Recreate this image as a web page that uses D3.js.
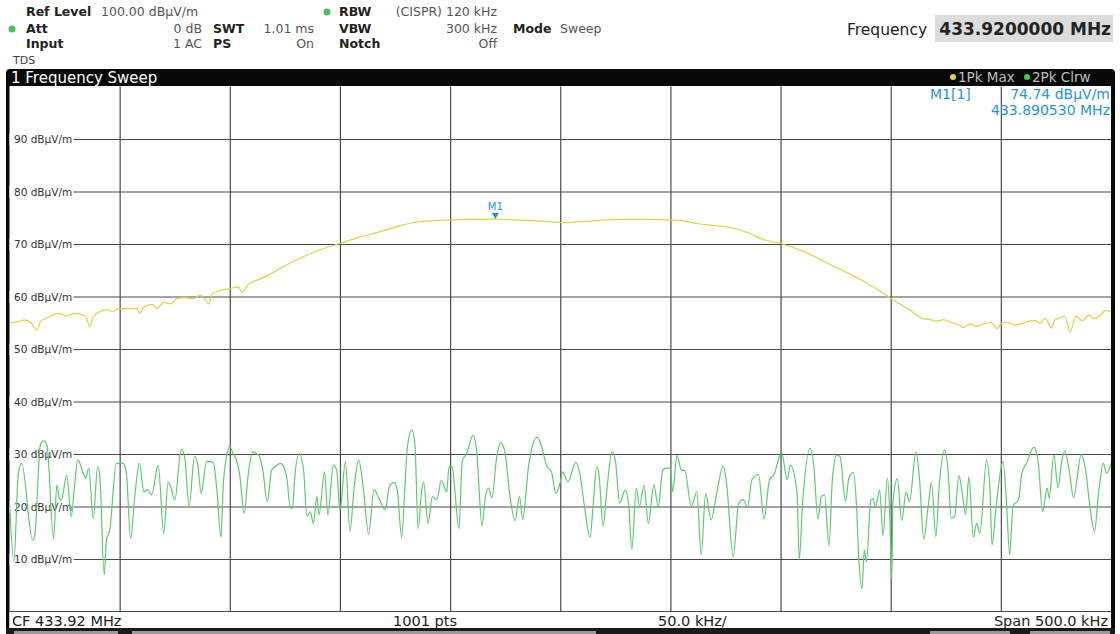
<!DOCTYPE html>
<html>
<head>
<meta charset="utf-8">
<script src="https://d3js.org/d3.v7.min.js"></script>
<style>
  body { margin: 0; background: #fff; }
  svg { display: block; font-family: "DejaVu Sans", Verdana, sans-serif; }
</style>
</head>
<body>
<div id="chart"></div>
<script>
// sweep settings
var centerMHz = 433.92;
var spanKHz = 500;
var sweepPoints = 1001;
var startMHz = centerMHz - spanKHz / 2000;

// grid
var yTicks = [10, 20, 30, 40, 50, 60, 70, 80, 90];
var xGridKHz = [50, 100, 150, 200, 250, 300, 350, 400, 450];

// trace 1 : 1Pk Max  [kHz from start, dBµV/m]
var pkMax = [
  [0,54.9],[3.5,55.2],[7,55.5],[10,54.9],[12.5,53.6],[14,55.2],[18.5,56.2],[22,56.8],[26,56.3],[29.5,56.8],
  [34.5,56.3],[36.5,54.2],[38,56.2],[41,57.1],[44,57.5],[47,57.1],[49.5,57.7],[53,57.7],[58,57.7],[59,56.8],
  [61,58.0],[64.5,58.5],[67,57.7],[70,58.9],[73,58.6],[76,59.6],[79.5,59.8],[83.5,59.6],[86.5,60.2],[88.5,59.6],
  [90.5,58.6],[92,60.5],[95.5,61.1],[100,61.5],[104,61.8],[105.5,60.8],[108.5,62.3],[113.5,63.3],[118,64.2],[123,65.4],
  [127,66.3],[132,67.3],[141,68.9],[150,70.1],[159,71.3],[168,72.3],[175,73.2],[183.5,74.1],[191,74.4],[200,74.6],[210,74.7],
  [220.5,74.74],[228,74.6],[235.5,74.5],[243,74.3],[250,74.1],[257,74.2],[265,74.4],[272,74.6],[278.5,74.7],[290,74.7],
  [300,74.6],[306,74.4],[312,73.9],[320,73.5],[329,73.0],[336,72.0],[342.5,70.8],[350,70.1],[361,68.5],[372,66.2],
  [380,64.6],[386,63.3],[393,61.6],[399.5,59.8],[404,58.6],[408.5,57.5],[414.5,55.8],[418,55.6],[421,55.3],[424,55.6],
  [427,55.1],[430,54.8],[433,54.1],[436,54.8],[439,54.3],[442,54.8],[445.5,55.1],[448.5,53.9],[450.5,55.0],[453,55.1],
  [456,54.6],[459.5,54.8],[462,55.2],[465.5,55.4],[468,54.9],[470,55.9],[473,54.0],[474.5,55.5],[476.5,55.9],[479,56.2],
  [481.5,53.3],[484,56.2],[487,55.4],[490,56.5],[492,55.8],[494.5,56.2],[497.5,57.3],[500,57.2]
];

// trace 2 : 2Pk Clrw  [kHz from start, dBµV/m]
var pkClrw = [
  [0,21],[2,9.5],[4,26.3],[5.5,28.2],[10.5,13.6],[11.5,14.6],[14,31.7],[15.5,32.5],[17,31.7],[20,13.9],
  [21.5,24.1],[22.5,21.9],[23.5,21.2],[26,26],[28,18],[29.5,23.8],[31,28.9],[33.5,26.3],[34.5,25.3],[36,27.3],
  [38,17.7],[40,27.6],[41,25.7],[43,7.0],[44,13.6],[45.5,15.5],[48.5,28.2],[51.5,28.2],[53,26.6],[55,13.9],
  [57,22.5],[59,28.2],[61,22.8],[62.5,23.2],[64.5,22.2],[67.5,27.9],[70,14.9],[72,24.6],[73,24],[75,21.2],
  [78,30.9],[79.5,29.5],[81.5,20],[84,29.6],[85.5,27.9],[87,22.5],[89.5,28.6],[92.5,28.4],[94,23.8],[96,14.2],
  [97,23.8],[98.5,29.5],[100,31.4],[101.5,30.1],[103,28.9],[104.5,26],[106.5,18.7],[108.5,26.6],[110.5,30.4],[112,30.1],
  [113.5,29.5],[115,26.9],[117,20.9],[119,26.9],[121.5,27.9],[123,28.2],[124.5,27.6],[126,25],[127.5,19.7],[128.5,19.7],
  [129.5,25.7],[131.5,30.1],[133.5,26.9],[135,18.1],[136.5,19],[138,16.8],[139.5,22],[140.5,18.4],[143,26.6],[144.5,18.4],
  [147,27.9],[148.5,27],[150,19.3],[152.5,28.6],[154.5,15.2],[156.5,23.8],[158.5,28.9],[160.5,23.8],[163,14.8],[165.5,23.2],
  [167.5,21.7],[170.5,19.4],[172.5,23.8],[174.5,24.6],[176,23.2],[178,14.1],[179.5,23.8],[180.5,30.8],[182.5,34.6],[184,32.1],
  [185.5,15.8],[187,22.8],[188,24.6],[190,16.8],[192,21.9],[194,21.3],[196,25],[198.5,22.8],[199.5,27.6],[201,27.6],
  [202,23.8],[204,15.8],[205.5,28.6],[207.5,30.1],[210.5,33.6],[212,30.8],[214.5,16.3],[216,21.9],[217.5,23.5],[219,21.6],
  [221,28.9],[223,32.2],[225,30.1],[227,22.5],[229.5,17.3],[231.5,21.9],[233,17.5],[234.5,22.8],[235.5,27.3],[239.5,33.2],
  [241,32.1],[244,27.6],[246,26.6],[248,22.5],[250,24.6],[251,26.6],[253.5,24.7],[257,28.4],[259,26],[261,20],
  [263.5,14.1],[265,20.6],[266.5,27.6],[267.5,26.3],[269.5,16.3],[271,22.5],[273.5,30.4],[275,28.8],[277,20.7],[279.5,23.1],
  [281,20.6],[282.5,11.8],[284.5,23.5],[286,20.1],[288,24.1],[290,16.8],[292.5,24.1],[294.5,19.9],[296.5,26.9],[298,27.3],
  [300,27.3],[301,22.8],[303,29.8],[305,26.9],[306.5,26.9],[309.5,20],[312,22.8],[314,10.8],[316,22.5],[318.5,17.4],
  [321,22.5],[324,27.7],[325.5,24.4],[328.5,10.4],[331,20.6],[333,21.3],[335,19.9],[337,25.1],[340,26.1],[342.5,17.6],
  [345,25.1],[347,26.1],[350.5,30.3],[353,25.1],[354.5,27.9],[357.5,22.5],[358.5,9.9],[360,20.6],[363.5,31.1],[365,28.2],
  [367,17.6],[368.5,21.9],[370,22.2],[372,12.5],[373.5,25],[375.5,29.8],[377,29.5],[379.5,20.9],[381,25.4],[383,26.5],
  [384.5,20],[385.5,10.2],[387,4.4],[388,11.7],[389,9.5],[391,21.2],[392,21.5],[393,19.9],[395,23.1],[396.5,14.4],
  [398.5,25.4],[399.5,19.3],[400.5,6.3],[401,20.6],[403,25.3],[405,17.3],[407,22.8],[408.5,20.9],[411.5,30.4],[413,25.7],
  [415,13.8],[417,20],[418.5,24.6],[420.5,14.3],[422,23.8],[424.5,30.8],[426,27],[427.5,17.8],[429,18.1],[431,25.9],
  [432.5,22.5],[434,18.5],[435.5,25.7],[437.5,14.1],[439,16.8],[440.5,14.9],[443.5,28.8],[445,23.8],[446,12.7],[448,20.6],
  [451,28.6],[452.5,21.3],[454,10.8],[455.5,20.1],[458,21.3],[459.5,26.3],[461.5,28.1],[465,31.3],[467,28.2],[469,19],
  [471,23.5],[472,21.6],[474,29.8],[476,23.6],[477.5,28.2],[479,30.6],[481,27],[483,21.7],[486.5,29.9],[488.5,26.9],
  [490.5,19.7],[492.5,15.3],[494.5,23.2],[496.5,28.2],[498,26.3],[500,28.2]
];

// marker M1 on trace 1
var markerKHz = 220.53;
var markerLevel = 74.74;

var fullWidth = 1120, fullHeight = 634;
var plot = {left: 9.5, right: 1111, top: 86.5, bottom: 611.5};

var svg = d3.select('#chart').append('svg')
  .attr('width', fullWidth)
  .attr('height', fullHeight);

svg.append('rect').attr('width', fullWidth).attr('height', fullHeight).attr('fill', '#fff');

var xScale = d3.scaleLinear().domain([0, spanKHz]).range([plot.left, plot.right]);
var yScale = d3.scaleLinear().domain([0, 100]).range([plot.bottom, plot.top]);

// ---------- header ----------
var header = svg.append('g').attr('font-size', '12.5px');

function hText(x, y, txt, bold, anchor) {
  header.append('text')
    .attr('x', x).attr('y', y)
    .attr('fill', bold ? '#222' : '#555')
    .attr('font-weight', bold ? 'bold' : 'normal')
    .attr('text-anchor', anchor || 'start')
    .text(txt);
}

hText(26, 16, 'Ref Level', true);
hText(101, 16, '100.00 dBµV/m', false);
hText(339, 16, 'RBW', true);
hText(497, 16, '(CISPR) 120 kHz', false, 'end');

hText(26, 33, 'Att', true);
hText(202, 33, '0 dB', false, 'end');
hText(213, 33, 'SWT', true);
hText(314, 33, '1.01 ms', false, 'end');
hText(339, 33, 'VBW', true);
hText(497, 33, '300 kHz', false, 'end');
hText(513, 33, 'Mode', true);
hText(560, 33, 'Sweep', false);

hText(26, 48, 'Input', true);
hText(202, 48, '1 AC', false, 'end');
hText(213, 48, 'PS', true);
hText(314, 48, 'On', false, 'end');
hText(339, 48, 'Notch', true);
hText(497, 48, 'Off', false, 'end');

header.append('text').attr('x', 13).attr('y', 64).attr('font-size', '11px').attr('fill', '#444').text('TDS');

// green status dots
header.append('circle').attr('cx', 327).attr('cy', 12).attr('r', 3.5).attr('fill', '#4fbf5a');
header.append('circle').attr('cx', 12).attr('cy', 29).attr('r', 3.5).attr('fill', '#4fbf5a');

// center frequency box
svg.append('text')
  .attr('x', 847).attr('y', 35)
  .attr('font-size', '15.5px').attr('fill', '#222')
  .text('Frequency');
svg.append('rect')
  .attr('x', 935).attr('y', 15).attr('width', 178).attr('height', 27)
  .attr('fill', '#dcdcdc');
svg.append('text')
  .attr('x', 1111).attr('y', 35)
  .attr('text-anchor', 'end')
  .attr('font-size', '17px').attr('font-weight', 'bold').attr('fill', '#222')
  .text(centerMHz.toFixed(7) + ' MHz');

// ---------- window frame + title bar ----------
svg.append('path')
  .attr('d', 'M6,86 L6,73 Q6,69 10,69 L1111,69 Q1115,69 1115,73 L1115,86 Z')
  .attr('fill', '#080808');
svg.append('rect').attr('x', 6).attr('y', 86).attr('width', 3.5).attr('height', 544).attr('fill', '#080808');
svg.append('rect').attr('x', 1111).attr('y', 86).attr('width', 4).attr('height', 544).attr('fill', '#080808');

svg.append('text')
  .attr('x', 11).attr('y', 82.5)
  .attr('font-size', '15px').attr('fill', '#fff')
  .text('1 Frequency Sweep');

var traceLegend = [
  {name: '1Pk Max', color: '#e3d43a', x: 953},
  {name: '2Pk Clrw', color: '#3fcf4a', x: 1027}
];
traceLegend.forEach(function (t) {
  svg.append('circle').attr('cx', t.x).attr('cy', 77).attr('r', 3).attr('fill', t.color);
  svg.append('text')
    .attr('x', t.x + 5).attr('y', 82)
    .attr('font-size', '13.5px').attr('fill', '#bdbdbd')
    .text(t.name);
});

// ---------- grid ----------
var plotG = svg.append('g');

plotG.append('g')
  .attr('class', 'x grid')
  .attr('transform', 'translate(0,' + plot.bottom + ')')
  .call(d3.axisBottom(xScale)
    .tickValues(xGridKHz)
    .tickSize(-(plot.bottom - plot.top))
    .tickFormat(''))
  .call(function (g) { g.select('.domain').remove(); })
  .selectAll('line')
  .attr('stroke', '#4a4a4a')
  .attr('stroke-width', 1.2);

var yAxis = plotG.append('g')
  .attr('class', 'y grid')
  .attr('transform', 'translate(' + plot.left + ',0)')
  .call(d3.axisRight(yScale)
    .tickValues(yTicks)
    .tickSize(plot.right - plot.left)
    .tickFormat(function (d) { return d + ' dBµV/m'; }));

yAxis.select('.domain').remove();
yAxis.selectAll('line').attr('stroke', '#4a4a4a').attr('stroke-width', 1.2);

// white patch behind each level label, label sits on the grid line
yAxis.selectAll('.tick').insert('rect', 'text')
  .attr('x', 0).attr('y', -6).attr('width', 64).attr('height', 12)
  .attr('fill', '#fff');
yAxis.selectAll('text')
  .attr('x', 4.5).attr('dy', '0.35em')
  .attr('text-anchor', 'start')
  .attr('font-size', '10.5px')
  .attr('font-family', '"DejaVu Sans", Verdana, sans-serif')
  .attr('fill', '#333');

// plot bottom edge
plotG.append('line')
  .attr('x1', plot.left).attr('x2', plot.right)
  .attr('y1', plot.bottom).attr('y2', plot.bottom)
  .attr('stroke', '#4a4a4a').attr('stroke-width', 1.2);

// ---------- traces ----------
svg.append('clipPath').attr('id', 'clip')
  .append('rect')
  .attr('x', plot.left).attr('y', plot.top)
  .attr('width', plot.right - plot.left).attr('height', plot.bottom - plot.top);

var line = d3.line()
  .x(function (d) { return xScale(d[0]); })
  .y(function (d) { return yScale(d[1]); })
  .curve(d3.curveMonotoneX);

plotG.append('path')
  .datum(pkClrw)
  .attr('clip-path', 'url(#clip)')
  .attr('fill', 'none')
  .attr('stroke', '#62c870')
  .attr('stroke-width', 1.2)
  .attr('d', line);

plotG.append('path')
  .datum(pkMax)
  .attr('clip-path', 'url(#clip)')
  .attr('fill', 'none')
  .attr('stroke', '#dcd24e')
  .attr('stroke-width', 1.2)
  .attr('d', line);

// ---------- marker M1 ----------
var mx = xScale(markerKHz), my = yScale(markerLevel);
plotG.append('path')
  .attr('d', 'M' + (mx - 3.5) + ',' + (my - 6) + ' L' + (mx + 3.5) + ',' + (my - 6) + ' L' + mx + ',' + my + ' Z')
  .attr('fill', '#1e8fd0');
plotG.append('text')
  .attr('x', mx).attr('y', my - 9)
  .attr('text-anchor', 'middle')
  .attr('font-size', '10px').attr('fill', '#2a95cf')
  .text('M1');

var markerInfo = plotG.append('g').attr('font-size', '14px').attr('fill', '#2a95cf');
markerInfo.append('text').attr('x', 930).attr('y', 99).text('M1[1]');
markerInfo.append('text').attr('x', 1110).attr('y', 99).attr('text-anchor', 'end')
  .text(markerLevel.toFixed(2) + ' dBµV/m');
markerInfo.append('text').attr('x', 1110).attr('y', 115).attr('text-anchor', 'end')
  .text((startMHz + markerKHz / 1000).toFixed(6) + ' MHz');

// ---------- bottom status bar ----------
svg.append('rect').attr('x', 9.5).attr('y', 612).attr('width', 1101.5).attr('height', 16).attr('fill', '#fff');
svg.append('rect').attr('x', 6).attr('y', 628).attr('width', 1109).attr('height', 6).attr('fill', '#1a1a1a');
[[14, 104], [132, 464], [930, 80], [1030, 80]].forEach(function (t) {
  svg.append('rect').attr('x', t[0]).attr('y', 631).attr('width', t[1]).attr('height', 3).attr('fill', '#9a9a9a');
});

var statusBar = svg.append('g').attr('font-size', '14.5px').attr('fill', '#222');
statusBar.append('text').attr('x', 12).attr('y', 626).text('CF ' + centerMHz.toFixed(2) + ' MHz');
statusBar.append('text').attr('x', 393).attr('y', 626).text(sweepPoints + ' pts');
statusBar.append('text').attr('x', 658).attr('y', 626).text((spanKHz / 10).toFixed(1) + ' kHz/');
statusBar.append('text').attr('x', 1108).attr('y', 626).attr('text-anchor', 'end').text('Span ' + spanKHz.toFixed(1) + ' kHz');
</script>
</body>
</html>
